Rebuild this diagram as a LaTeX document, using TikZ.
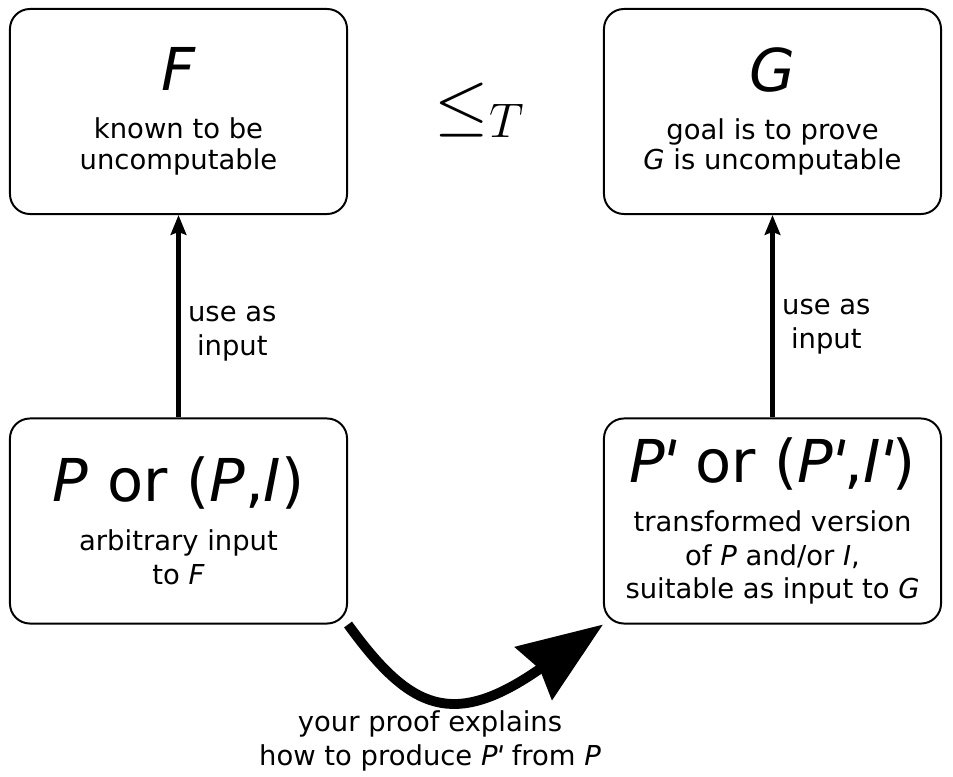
\documentclass[tikz,border=0pt]{standalone}
\usepackage{graphicx}
\usepackage[no-math]{fontspec}
\setmainfont{DejaVu Sans}[Ligatures=TeXOff]
\usetikzlibrary{arrows.meta,positioning}
\newcommand{\prm}{\kern-0.12em\rotatebox[origin=b]{-12}{'}\kern-0.1em}

\begin{document}
\begin{tikzpicture}[x=0.025cm,y=-0.025cm,>={Stealth[length=14pt,width=11pt,inset=2pt]},
        fact/.style={draw,rounded corners=0.5cm,line width=1.4pt,minimum width=8.425cm,
          minimum height=5.125cm,align=center,inner sep=0pt,font=\fontsize{19.5}{22}\selectfont},
        low/.style={font=\fontsize{19.5}{24}\selectfont},
        note/.style={align=center,font=\fontsize{19.5}{24}\selectfont}]
        \useasboundingbox (0,0) rectangle (953,776);
        \node[fact] (F) at (178.5,111.5) {{\fontsize{42}{46}\selectfont\textit{F}}\\[12pt]known to be\\uncomputable};
        \node[fact] (G) at (772.5,111.5) {{\fontsize{42}{46}\selectfont\textit{G}}\\[12pt]goal is to prove\\\textit{G} is uncomputable};
        \node[fact,low] (P) at (178.5,521) {{\fontsize{42}{46}\selectfont\textit{P} or (\textit{P},\textit{I})}\\[11pt]arbitrary input\\to \textit{F}};
        \node[fact,low] (Q) at (772.5,521) {{\fontsize{42}{46}\selectfont\textit{P\prm} or (\textit{P\prm},\textit{I\prm})}\\[11pt]transformed version\\of \textit{P} and/or \textit{I},\\suitable as input to \textit{G}};
        \node (leq) at (480,110) {\scalebox{2}{\Huge$\leq_{\mbox{\LARGE$T$}}$}};
        \draw[->,line width=3pt] (P) -- (F) node[note,pos=0.415,right=2pt] {use as\\input};
        \draw[->,line width=3pt] (Q) -- (G) node[note,pos=0.45,right=2pt] {use as\\input};
        \draw[-{Stealth[length=60pt,width=45pt,inset=5pt]},line width=7pt]
          (P.south east) .. controls (410,710) and (453,730) .. (Q.south west);
        \node[note] (how) at (430,741) {your proof explains\\how to produce \textit{P\prm} from \textit{P}};
\end{tikzpicture}
\end{document}
